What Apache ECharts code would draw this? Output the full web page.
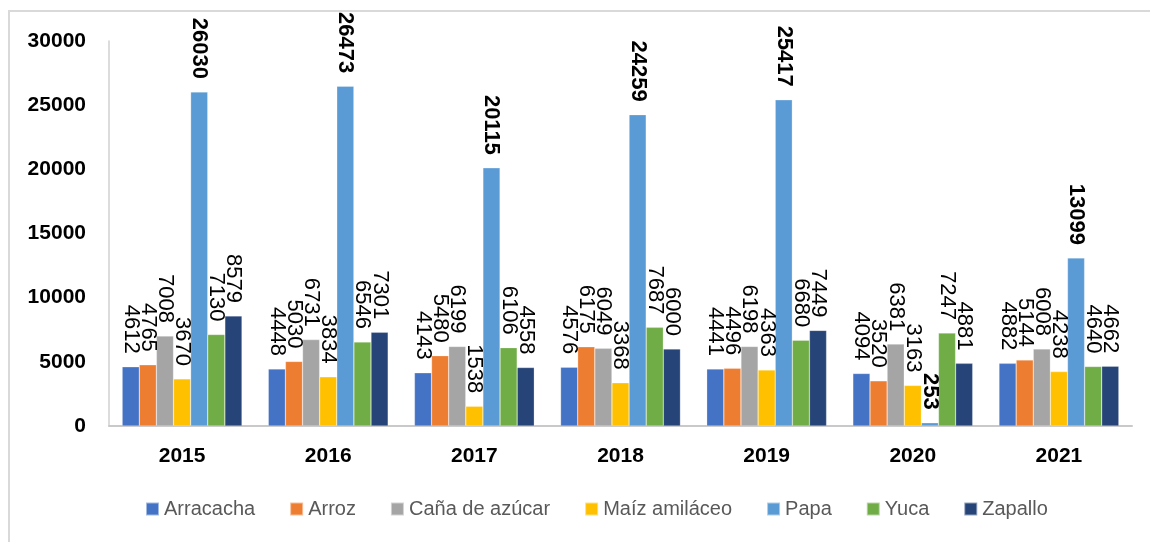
<!DOCTYPE html>
<html>
<head>
<meta charset="utf-8">
<script src="https://cdn.jsdelivr.net/npm/echarts@6/dist/echarts.min.js"></script>
<style>
  html, body { margin: 0; padding: 0; background: #fff; }
  #chart { width: 1150px; height: 542px; }
</style>
</head>
<body>
<div id="chart"></div>
<script>
// años
const years = ['2015', '2016', '2017', '2018', '2019', '2020', '2021'];

// producción por cultivo
const arracacha = [4612, 4448, 4143, 4576, 4441, 4094, 4882];
const arroz = [4765, 5030, 5480, 6175, 4496, 3520, 5144];
const cana = [7008, 6731, 6199, 6049, 6198, 6381, 6008];
const maiz = [3670, 3834, 1538, 3368, 4363, 3163, 4238];
const papa = [26030, 26473, 20115, 24259, 25417, 253, 13099];
const yuca = [7130, 6546, 6106, 7687, 6680, 7247, 4640];
const zapallo = [8579, 7301, 4558, 6000, 7449, 4881, 4662];

const yTicks = [0, 5000, 10000, 15000, 20000, 25000, 30000];

const seriesList = [
  { name: 'Arracacha', data: arracacha, color: '#4472C4' },
  { name: 'Arroz', data: arroz, color: '#ED7D31' },
  { name: 'Caña de azúcar', data: cana, color: '#A5A5A5' },
  { name: 'Maíz amiláceo', data: maiz, color: '#FFC000' },
  { name: 'Papa', data: papa, color: '#5B9BD5', bold: true },
  { name: 'Yuca', data: yuca, color: '#70AD47' },
  { name: 'Zapallo', data: zapallo, color: '#264478' }
];

const font = '"Liberation Sans", Arial, sans-serif';

var chart = echarts.init(document.getElementById('chart'));

var option = {
  animation: false,
  color: seriesList.map(s => s.color),
  graphic: [{
    type: 'rect',
    shape: { x: 9, y: 11, width: 1160, height: 560 },
    style: { fill: 'none', stroke: '#D9D9D9', lineWidth: 2 },
    silent: true
  }],
  grid: { left: 109, right: 18, top: 41, bottom: 116 },
  legend: {
    bottom: 18,
    left: 140,
    itemWidth: 13,
    itemHeight: 13,
    itemGap: 34,
    icon: 'rect',
    textStyle: { fontFamily: font, fontSize: 20, color: '#595959' },
    data: seriesList.map(s => s.name)
  },
  xAxis: {
    type: 'category',
    data: years,
    axisLine: { lineStyle: { color: '#C9C9C9', width: 2 } },
    axisTick: { show: false },
    axisLabel: { margin: 20, fontFamily: font, fontSize: 21, fontWeight: 'bold', color: '#000' }
  },
  yAxis: {
    type: 'value',
    min: 0,
    max: yTicks[yTicks.length - 1],
    interval: yTicks[1] - yTicks[0],
    splitLine: { show: false },
    axisLine: { show: true, lineStyle: { color: '#D0D0D0', width: 1.5 } },
    axisTick: { show: false },
    axisLabel: {
      margin: 23, fontFamily: font, fontSize: 21, fontWeight: 'bold', color: '#000',
      formatter: v => String(v)
    }
  },
  series: []
};

for (let s of seriesList) {
  option.series.push({
    name: s.name,
    type: 'bar',
    data: s.data,
    barGap: '0%',
    barCategoryGap: '18%',
    itemStyle: { borderColor: 'rgba(255,255,255,0.5)', borderWidth: 0.5 },
    label: {
      show: true,
      position: 'top',
      rotate: -90,
      align: 'right',
      verticalAlign: 'middle',
      distance: 13,
      fontFamily: font,
      fontSize: 22,
      fontWeight: s.bold ? 'bold' : 'normal',
      color: '#000'
    }
  });
}

chart.setOption(option);
</script>
</body>
</html>
